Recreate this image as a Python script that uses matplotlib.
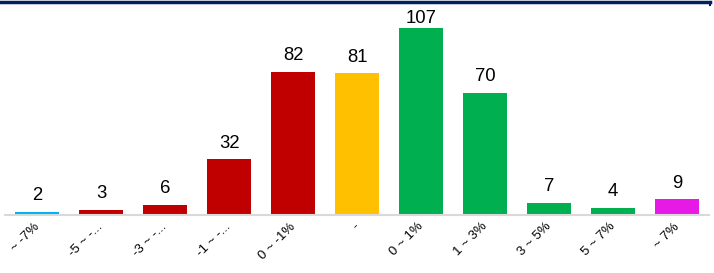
import matplotlib
matplotlib.use("Agg")
import matplotlib.pyplot as plt
from matplotlib.lines import Line2D
from matplotlib.transforms import ScaledTranslation

plt.rcParams['font.family'] = ['Liberation Sans', 'DejaVu Sans']

categories = ["~ -7%", "-5 ~ -...", "-3 ~ -...", "-1 ~ -...", "0 ~ -1%", "-",
              "0 ~ 1%", "1 ~ 3%", "3 ~ 5%", "5 ~ 7%", "~ 7%"]
values = [2, 3, 6, 32, 82, 81, 107, 70, 7, 4, 9]
colors = ["#00B0F0", "#C00000", "#C00000", "#C00000", "#C00000", "#FFC000",
          "#00B050", "#00B050", "#00B050", "#00B050", "#E619E6"]

W, H = 714, 273
fig = plt.figure(figsize=(W/100, H/100), dpi=100)
ax = fig.add_axes([5/W, (H-215)/H, 704/W, 212/H])

x = list(range(len(categories)))
ax.bar(x, values, width=0.69, color=colors, zorder=2)
ymax = 121.3
ax.set_xlim(-0.5, 10.5)
ax.set_ylim(0, ymax)

for xi, v in zip(x, values):
    ax.text(xi, min(v + 6.6, ymax - 11.6), str(v), ha='center', va='baseline',
            fontsize=13.3, color='#000000')

ax.set_xticks(x)
ax.set_xticklabels(categories, rotation=45, ha='right', rotation_mode='anchor', fontsize=9.5)
ax.tick_params(axis='x', length=0, pad=4)
offset = ScaledTranslation(-4/100, 0, fig.dpi_scale_trans)
for lab in ax.get_xticklabels():
    lab.set_transform(lab.get_transform() + offset)
ax.set_yticks([])
for s in ['top', 'right', 'left']:
    ax.spines[s].set_visible(False)
ax.spines['bottom'].set_color('#D9D9D9')
ax.spines['bottom'].set_linewidth(1.5)

fig.add_artist(Line2D([0, 710/W], [1 - 1.5/H, 1 - 1.5/H], transform=fig.transFigure,
                      color='#002060', linewidth=2.5))
fig.add_artist(Line2D([710/W, 710/W], [1 - 1.5/H, 1 - 5/H], transform=fig.transFigure,
                      color='#002060', linewidth=1.5))

fig.savefig("out.png", dpi=100)
